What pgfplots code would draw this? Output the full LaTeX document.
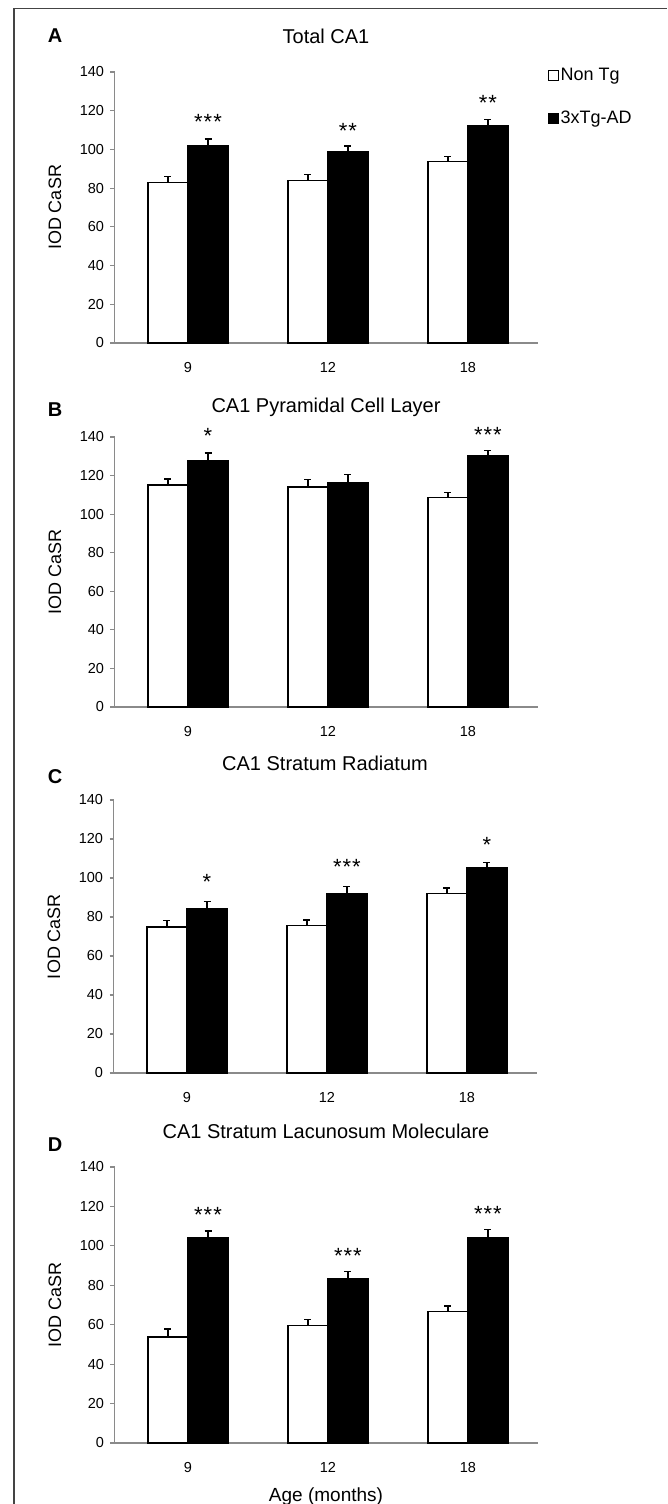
\documentclass[border=0pt]{standalone}
\usepackage{fontspec}
\setmainfont{Liberation Sans}
\usepackage{pgfplots}
\pgfplotsset{compat=1.18}
\definecolor{axisgray}{HTML}{8A8A8A}
\definecolor{framegray}{HTML}{444444}

\tikzset{stars/.style={anchor=base, font=\fontsize{22}{24}\selectfont, inner sep=0pt}}
\newcommand{\sst}[1]{\ifcase#1\or *\or *\kern1pt*\or *\kern1pt*\kern1pt*\fi}
\pgfplotsset{
  panel/.style={
    scale only axis, width=423pt, anchor=south west,
    xmin=-0.525, xmax=2.497, ymin=0, ymax=140,
    axis lines=left,
    axis line style={-, draw=axisgray, line width=1.3pt},
    ytick={0,20,...,140}, xtick={0,1,2}, xticklabels={9,12,18},
    tick align=outside, major tick length=4pt,
    ytick style={draw=axisgray, line width=1.2pt},
    xtick style={draw=none},
    tick label style={font=\fontsize{14.5}{16}\selectfont},
    yticklabel style={xshift=-3pt},
    xticklabel style={yshift=-12pt},
    /pgf/number format/assume math mode=true,
    ylabel={IOD CaSR},
    ylabel style={at={(axis description cs:-0.1407,0.5)}, anchor=center, font=\fontsize{18}{20}\selectfont},
    title style={font=\fontsize{20}{22}\selectfont, at={(axis description cs:0.5,1)}, anchor=base},
    clip=false,
  },
  wbar/.style={ybar, bar width=0.2857, bar shift=0pt, fill=white, draw=black, line width=1.3pt,
    error bars/.cd, y dir=plus, y explicit,
    error bar style={black, line width=1.2pt},
    error mark options={rotate=90, mark size=3.5pt, black, line width=1.2pt}, /pgfplots/.cd},
  bbar/.style={ybar, bar width=0.2857, bar shift=0pt, fill=black, draw=black, line width=1.3pt,
    error bars/.cd, y dir=plus, y explicit,
    error bar style={black, line width=1.2pt},
    error mark options={rotate=90, mark size=3.5pt, black, line width=1.2pt}, /pgfplots/.cd},
}

\begin{document}
\begin{tikzpicture}
\useasboundingbox (0pt,0pt) rectangle (667pt,1504pt);
\draw[framegray, line width=1.3pt] (14pt,0pt) -- (14pt,1495.5pt) -- (667pt,1495.5pt);

% ---------------- A
\begin{axis}[panel, at={(114.5pt,1161pt)}, height=271pt,
  title={Total CA1}, title style={yshift=22.8pt},
  legend style={draw=none, fill=none, at={(axis description cs:1.025,1.02)}, anchor=north west,
    font=\fontsize{18}{20}\selectfont, row sep=26pt, inner sep=0pt, nodes={inner sep=1.5pt}},
  legend cell align=left]
\addplot[wbar, legend image code/.code={\draw[fill=white,draw=black,line width=0.9pt] (0pt,-5pt) rectangle (10pt,5pt);}]
  coordinates {(-0.143,82.8) +- (0,3.2) (0.857,84.0) +- (0,3.0) (1.857,93.6) +- (0,2.9)};
\addlegendentry{Non Tg}
\addplot[bbar, legend image code/.code={\draw[fill=black,draw=black,line width=0.9pt] (0pt,-5pt) rectangle (10pt,5pt);}]
  coordinates {(0.143,102.1) +- (0,3.3) (1.143,98.9) +- (0,2.9) (2.143,112.4) +- (0,2.9)};
\addlegendentry{3xTg-AD}
\node[stars] at (axis cs:0.143,110.3) {\sst3};
\node[stars] at (axis cs:1.143,105.6) {\sst2};
\node[stars] at (axis cs:2.143,120.2) {\sst2};
\end{axis}

% ---------------- B
\begin{axis}[panel, at={(114.5pt,797pt)}, height=270pt,
  title={CA1 Pyramidal Cell Layer}, title style={yshift=18pt}]
\addplot[wbar] coordinates {(-0.143,115.1) +- (0,3.1) (0.857,114.1) +- (0,3.8) (1.857,108.5) +- (0,2.6)};
\addplot[bbar] coordinates {(0.143,127.5) +- (0,4.2) (1.143,116.5) +- (0,4.0) (2.143,130.3) +- (0,2.6)};
\node[stars] at (axis cs:0.143,136.8) {\sst1};
\node[stars] at (axis cs:2.143,137.2) {\sst3};
\end{axis}

% ---------------- C
\begin{axis}[panel, at={(113.5pt,431pt)}, height=273pt,
  title={CA1 Stratum Radiatum}, title style={yshift=23pt}]
\addplot[wbar] coordinates {(-0.143,74.8) +- (0,3.2) (0.857,75.8) +- (0,2.7) (1.857,92.0) +- (0,2.9)};
\addplot[bbar] coordinates {(0.143,84.5) +- (0,3.3) (1.143,92.2) +- (0,3.6) (2.143,105.3) +- (0,2.8)};
\node[stars] at (axis cs:0.143,94.1) {\sst1};
\node[stars] at (axis cs:1.143,101.8) {\sst3};
\node[stars] at (axis cs:2.143,112.9) {\sst1};
\end{axis}

% ---------------- D
\begin{axis}[panel, at={(114.5pt,61pt)}, height=276pt,
  title={CA1 Stratum Lacunosum Moleculare}, title style={yshift=22pt},
  xlabel={Age (months)},
  xlabel style={at={(axis description cs:0.5,0)}, anchor=base, yshift=-58pt, font=\fontsize{19}{21}\selectfont}]
\addplot[wbar] coordinates {(-0.143,53.8) +- (0,4.0) (0.857,59.7) +- (0,2.9) (1.857,66.6) +- (0,2.9)};
\addplot[bbar] coordinates {(0.143,104.3) +- (0,3.2) (1.143,83.4) +- (0,3.5) (2.143,104.0) +- (0,4.4)};
\node[stars] at (axis cs:0.143,111.8) {\sst3};
\node[stars] at (axis cs:1.143,91.1) {\sst3};
\node[stars] at (axis cs:2.143,112.6) {\sst3};
\end{axis}

\node[font=\bfseries\fontsize{20}{22}\selectfont] at (55pt,1468pt) {A};
\node[font=\bfseries\fontsize{20}{22}\selectfont] at (55pt,1094pt) {B};
\node[font=\bfseries\fontsize{20}{22}\selectfont] at (55pt,727pt) {C};
\node[font=\bfseries\fontsize{20}{22}\selectfont] at (55pt,359pt) {D};
\end{tikzpicture}
\end{document}
